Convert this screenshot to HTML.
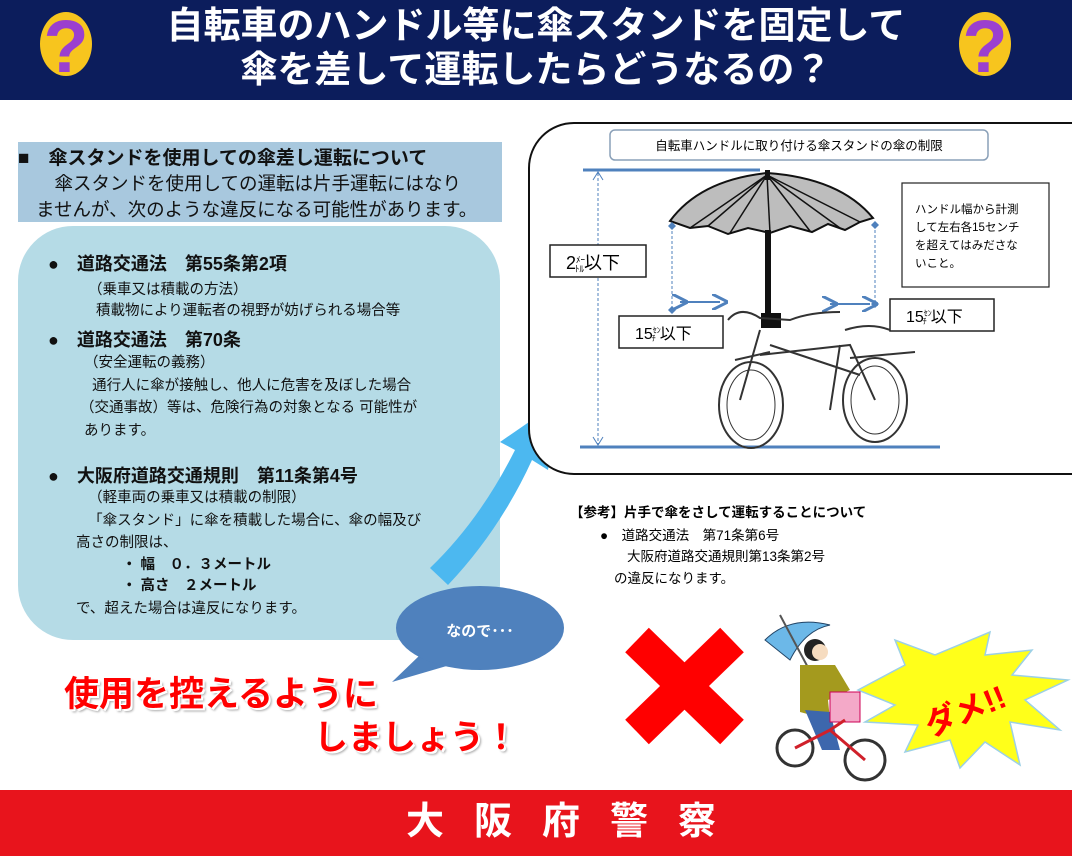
<!DOCTYPE html>
<html><head><meta charset="utf-8"><style>
*{margin:0;padding:0;box-sizing:border-box}
body{width:1072px;height:856px;position:relative;background:#fff;overflow:hidden;font-family:"Liberation Sans","Noto Sans CJK JP",sans-serif;color:#111}
.a{position:absolute;white-space:nowrap}
.b{font-weight:bold}
</style></head><body>
<div class="a" style="left:0;top:0;width:1072px;height:100px;background:#0c1d5c"></div>
<div class="a b" style="left:0;top:4px;width:1072px;text-align:center;color:#fff;font-size:37px;line-height:44px">自転車のハンドル等に傘スタンドを固定して<br>傘を差して運転したらどうなるの？</div>
<svg class="a" style="left:0;top:0" width="1072" height="100">
<ellipse cx="66" cy="44" rx="26" ry="32" fill="#f7c51e"/><text x="66" y="72" text-anchor="middle" font-size="74" font-weight="bold" fill="#9b3fcf" font-family="Liberation Sans">?</text>
<ellipse cx="985" cy="44" rx="26" ry="32" fill="#f7c51e"/><text x="985" y="72" text-anchor="middle" font-size="74" font-weight="bold" fill="#9b3fcf" font-family="Liberation Sans">?</text>
</svg>

<div class="a" style="left:18px;top:142px;width:484px;height:80px;background:#a8c8de"></div>
<div class="a b" style="left:18px;top:143px;font-size:19px">■　傘スタンドを使用しての傘差し運転について</div>
<div class="a" style="left:36px;top:171px;font-size:18.5px;line-height:26px">　傘スタンドを使用しての運転は片手運転にはなり<br>ませんが、次のような違反になる可能性があります。</div>

<div class="a" style="left:18px;top:226px;width:482px;height:414px;background:#b5dbe6;border-radius:55px"></div>
<div class="a b" style="left:48px;top:250px;font-size:18px">●　道路交通法　第55条第2項</div>
<div class="a" style="left:88px;top:280px;font-size:14.5px;line-height:21px">（乗車又は積載の方法）<br>&nbsp;&nbsp;積載物により運転者の視野が妨げられる場合等</div>
<div class="a b" style="left:48px;top:326px;font-size:18px">●　道路交通法　第70条</div>
<div class="a" style="left:80px;top:352px;font-size:14.5px;line-height:22.5px">&nbsp;（安全運転の義務）<br>&nbsp;&nbsp;&nbsp;通行人に傘が接触し、他人に危害を及ぼした場合<br>（交通事故）等は、危険行為の対象となる 可能性が<br>&nbsp;あります。</div>
<div class="a b" style="left:48px;top:462px;font-size:18px">●　大阪府道路交通規則　第11条第4号</div>
<div class="a" style="left:76px;top:487px;font-size:14.5px;line-height:22.5px">&nbsp;&nbsp;&nbsp;（軽車両の乗車又は積載の制限）<br>&nbsp;&nbsp;&nbsp;「傘スタンド」に傘を積載した場合に、傘の幅及び<br>高さの制限は、</div>
<div class="a b" style="left:122px;top:555px;font-size:14.5px;line-height:21px">・ 幅　０．３メートル<br>・ 高さ　２メートル</div>
<div class="a" style="left:76px;top:597px;font-size:14.5px">で、超えた場合は違反になります。</div>

<svg class="a" style="left:0;top:0" width="1072" height="856">
<defs><marker id="ah" markerWidth="8" markerHeight="8" refX="4" refY="4" orient="auto"><path d="M0,0 L8,4 L0,8" fill="none" stroke="#4f81bd" stroke-width="1.5"/></marker></defs>
<path d="M430,568 Q480,520 515,450 L500,442 L558,402 L548,470 L532,460 Q500,530 448,585 Z" fill="#4cb8f0"/>
<path d="M420,655 L392,682 L450,665 Z" fill="#4f81bd"/>
<ellipse cx="480" cy="628" rx="84" ry="42" fill="#4f81bd"/>
<text x="480" y="636" text-anchor="middle" fill="#fff" font-size="15" font-weight="bold" font-family="Liberation Sans,Noto Sans CJK JP,sans-serif">なので･･･</text>
<rect x="529" y="123" width="600" height="351" rx="45" fill="#fff" stroke="#111" stroke-width="2"/>
<rect x="610" y="130" width="378" height="30" rx="5" fill="#fff" stroke="#8aa0b8" stroke-width="1.5"/>
<text x="799" y="150" text-anchor="middle" font-size="12.5" font-family="Liberation Sans,Noto Sans CJK JP,sans-serif">自転車ハンドルに取り付ける傘スタンドの傘の制限</text>
<line x1="583" y1="170" x2="760" y2="170" stroke="#4f81bd" stroke-width="3"/>
<line x1="580" y1="447" x2="940" y2="447" stroke="#4f81bd" stroke-width="3"/>
<line x1="598" y1="173" x2="598" y2="444" stroke="#4f81bd" stroke-dasharray="3,2"/>
<path d="M593,180 L598,172 L603,180 M593,437 L598,445 L603,437" fill="none" stroke="#4f81bd"/>
<rect x="550" y="245" width="96" height="32" fill="#fff" stroke="#222" stroke-width="1.5"/>
<text x="566" y="269" font-size="18" font-family="Liberation Sans,Noto Sans CJK JP,sans-serif">2<tspan font-size="9" dy="-6">ﾒｰ</tspan><tspan font-size="9" dx="-10" dy="9">ﾄﾙ</tspan><tspan dy="-3">以下</tspan></text>
<path d="M670,221 Q700,180 767,173 Q840,178 873,218 L860,222 L845,230 L828,224 L812,232 L790,226 L770,233 L748,228 L728,234 L708,226 L690,228 Z" fill="#bdbdbd" stroke="#111" stroke-width="2"/>
<g stroke="#111" stroke-width="1.5"><line x1="767" y1="175" x2="690" y2="228"/><line x1="767" y1="175" x2="708" y2="226"/><line x1="767" y1="175" x2="730" y2="233"/><line x1="767" y1="175" x2="770" y2="233"/><line x1="767" y1="175" x2="810" y2="231"/><line x1="767" y1="175" x2="840" y2="228"/><line x1="767" y1="175" x2="860" y2="222"/></g>
<rect x="765" y="170" width="5" height="10" fill="#111"/>
<rect x="765" y="230" width="6" height="85" fill="#111"/>
<rect x="761" y="313" width="20" height="15" fill="#111"/>
<line x1="672" y1="226" x2="672" y2="310" stroke="#4f81bd" stroke-dasharray="3,2"/>
<line x1="875" y1="225" x2="875" y2="305" stroke="#4f81bd" stroke-dasharray="3,2"/>
<g fill="#4f81bd"><path d="M672,222l4,4-4,4-4-4z"/><path d="M672,306l4,4-4,4-4-4z"/><path d="M875,221l4,4-4,4-4-4z"/><path d="M875,300l4,4-4,4-4-4z"/></g>
<line x1="680" y1="302" x2="720" y2="302" stroke="#4f81bd" stroke-width="2" marker-start="url(#ah)" marker-end="url(#ah)"/>
<line x1="830" y1="304" x2="870" y2="304" stroke="#4f81bd" stroke-width="2" marker-start="url(#ah)" marker-end="url(#ah)"/>
<rect x="619" y="316" width="104" height="32" fill="#fff" stroke="#222" stroke-width="1.5"/>
<text x="635" y="339" font-size="16" font-family="Liberation Sans,Noto Sans CJK JP,sans-serif">15<tspan font-size="8" dy="-6">ｾﾝ</tspan><tspan font-size="8" dx="-9" dy="8">ﾁ</tspan><tspan dx="4" dy="-2">以下</tspan></text>
<rect x="890" y="299" width="104" height="32" fill="#fff" stroke="#222" stroke-width="1.5"/>
<text x="906" y="322" font-size="16" font-family="Liberation Sans,Noto Sans CJK JP,sans-serif">15<tspan font-size="8" dy="-6">ｾﾝ</tspan><tspan font-size="8" dx="-9" dy="8">ﾁ</tspan><tspan dx="4" dy="-2">以下</tspan></text>
<rect x="902" y="183" width="147" height="104" fill="#fff" stroke="#222" stroke-width="1.2"/>
<text font-size="11.5" font-family="Liberation Sans,Noto Sans CJK JP,sans-serif"><tspan x="915" y="213">ハンドル幅から計測</tspan><tspan x="915" y="231">して左右各15センチ</tspan><tspan x="915" y="249">を超えてはみださな</tspan><tspan x="915" y="267">いこと。</tspan></text>
<g fill="none" stroke="#333" stroke-width="2">
<ellipse cx="751" cy="405" rx="32" ry="43"/><ellipse cx="751" cy="405" rx="24" ry="35" stroke-width="1"/>
<ellipse cx="875" cy="400" rx="32" ry="42"/><ellipse cx="875" cy="400" rx="24" ry="34" stroke-width="1"/>
<path d="M728,320 Q740,305 760,318 L790,320 Q810,312 840,312"/>
<path d="M760,330 L740,400 M770,345 L860,375 M760,355 L850,345 L875,400 M840,345 L830,410"/>
<path d="M735,360 L770,352 M850,358 L915,352 M845,330 Q870,322 890,330"/>
</g>
<text font-size="13.5" font-family="Liberation Sans,Noto Sans CJK JP,sans-serif"><tspan x="570" y="517" font-weight="bold">【参考】片手で傘をさして運転することについて</tspan><tspan x="600" y="540">●　道路交通法　第71条第6号</tspan><tspan x="627" y="561">大阪府道路交通規則第13条第2号</tspan><tspan x="614" y="583">の違反になります。</tspan></text>
<g stroke="#f00" stroke-width="34"><line x1="637" y1="640" x2="732" y2="732"/><line x1="732" y1="640" x2="637" y2="732"/></g>
<path d="M858,690 L905,665 L895,640 L935,655 L990,632 L985,655 L1032,650 L1012,675 L1068,680 L1025,700 L1060,730 L1010,722 L1020,765 L985,742 L960,768 L950,740 L905,752 L918,725 L865,722 L895,705 Z" fill="#ffff1a" stroke="#9cd0e6" stroke-width="1.5"/>
<text x="965" y="722" text-anchor="middle" font-size="32" font-weight="bold" fill="#f00" transform="rotate(-22 965 710)" font-family="Liberation Sans,Noto Sans CJK JP,sans-serif">ダメ!!</text>
<path d="M765,640 Q790,615 830,625 Q805,630 790,660 Z" fill="#6cb8e8" stroke="#246" stroke-width="1"/>
<line x1="780" y1="615" x2="820" y2="690" stroke="#555" stroke-width="2"/>
<circle cx="815" cy="650" r="11" fill="#222"/><circle cx="820" cy="652" r="8" fill="#f6dcc0"/>
<path d="M800,665 L835,665 L850,690 L828,700 L830,720 L800,712 Z" fill="#a49a1e"/>
<path d="M805,710 L830,712 L840,750 L822,750 Z" fill="#3d67ad"/>
<rect x="830" y="692" width="30" height="30" fill="#f4a9c8" stroke="#c05" stroke-width="1"/>
<g fill="none" stroke="#333" stroke-width="3"><circle cx="795" cy="748" r="18"/><circle cx="865" cy="760" r="20"/></g>
<path d="M795,748 L830,730 L865,760 M830,730 L845,720" stroke="#d0202a" stroke-width="3" fill="none"/>
</svg>

<div class="a b" style="left:64px;top:666px;font-size:35px;color:#f00;text-shadow:2px 2px 0 #fff,-1px -1px 0 #fff,3px 3px 2px #aaa">使用を控えるように</div>
<div class="a b" style="left:314px;top:710px;font-size:34px;color:#f00;text-shadow:2px 2px 0 #fff,3px 3px 2px #aaa">しましょう！</div>

<div class="a" style="left:0;top:790px;width:1072px;height:66px;background:#e8141c"></div>
<div class="a b" style="left:0;top:796px;width:1072px;text-align:center;color:#fff;font-size:38px;letter-spacing:30px;padding-left:80px;line-height:52px">大阪府警察</div>
</body></html>
